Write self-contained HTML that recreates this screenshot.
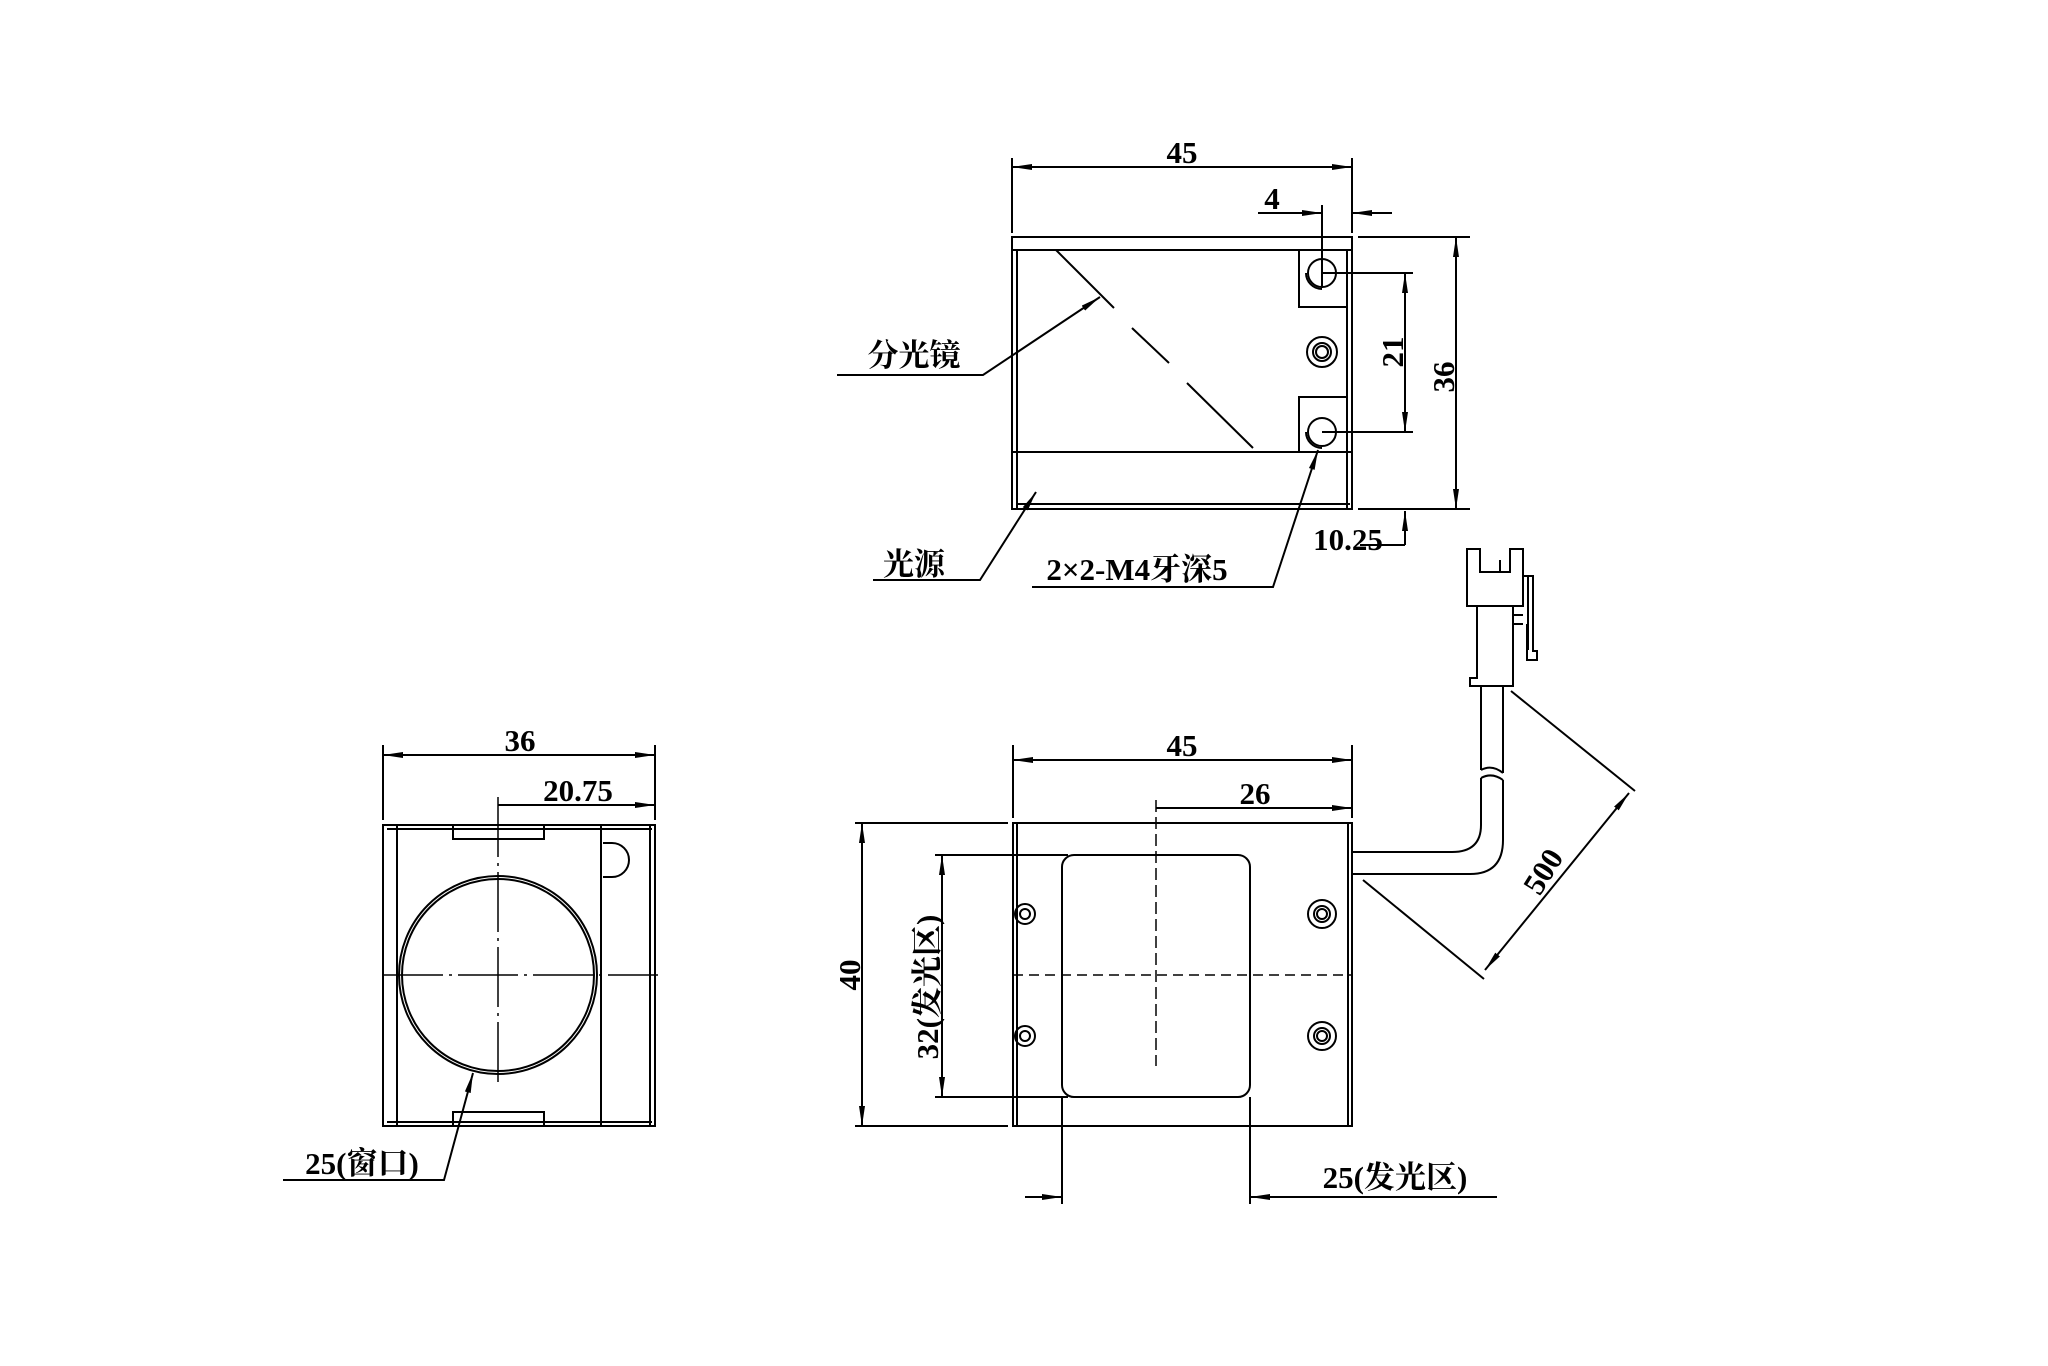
<!DOCTYPE html>
<html><head><meta charset="utf-8"><style>
html,body{margin:0;padding:0;background:#fff;}
svg{display:block}
text{font-family:"Liberation Serif","Noto Serif CJK SC","Noto Sans CJK SC",serif;font-weight:bold;fill:#000}
</style></head><body>
<svg width="2048" height="1366" viewBox="0 0 2048 1366" xmlns="http://www.w3.org/2000/svg">
<defs>
<marker id="a" viewBox="0 0 20 8" refX="20" refY="4" markerWidth="20" markerHeight="8" markerUnits="userSpaceOnUse" orient="auto-start-reverse">
<path d="M0,1 L20,4 L0,7 Z" fill="#000"/></marker>
</defs>
<g stroke="#000" stroke-width="2" fill="none">
<rect x="1012" y="237" width="340" height="272"/>
<line x1="1012" y1="250" x2="1352" y2="250"/>
<line x1="1017" y1="250" x2="1017" y2="509"/>
<line x1="1347" y1="250" x2="1347" y2="509"/>
<line x1="1012" y1="452" x2="1352" y2="452"/>
<line x1="1016" y1="504" x2="1350" y2="504"/>
<line x1="1056" y1="250" x2="1114" y2="308"/>
<line x1="1132" y1="328" x2="1169" y2="363"/>
<line x1="1187" y1="383" x2="1253" y2="448"/>
<polyline points="1299,250 1299,307 1347,307"/>
<polyline points="1299,452 1299,397 1347,397"/>
<circle cx="1322" cy="273" r="14"/><path d="M1306,273 A16,16 0 0 0 1322,289"/>
<circle cx="1322" cy="432" r="14"/><path d="M1306,432 A16,16 0 0 0 1322,448"/>
<circle cx="1322" cy="352" r="15"/><circle cx="1322" cy="352" r="9"/><circle cx="1322" cy="352" r="6"/>
<line x1="1012" y1="158" x2="1012" y2="233"/><line x1="1352" y1="158" x2="1352" y2="233"/>
<line x1="1012" y1="167" x2="1352" y2="167" marker-start="url(#a)" marker-end="url(#a)"/>
<line x1="1322" y1="205" x2="1322" y2="288"/>
<line x1="1258" y1="213" x2="1322" y2="213" marker-end="url(#a)"/>
<line x1="1392" y1="213" x2="1352" y2="213" marker-end="url(#a)"/>
<line x1="1322" y1="273" x2="1413" y2="273"/><line x1="1322" y1="432" x2="1413" y2="432"/>
<line x1="1405" y1="273" x2="1405" y2="432" marker-start="url(#a)" marker-end="url(#a)"/>
<line x1="1358" y1="237" x2="1470" y2="237"/><line x1="1358" y1="509" x2="1470" y2="509"/>
<line x1="1456" y1="237" x2="1456" y2="509" marker-start="url(#a)" marker-end="url(#a)"/>
<line x1="1405" y1="545" x2="1405" y2="511" marker-end="url(#a)"/>
<line x1="1360" y1="545" x2="1405" y2="545"/>
<polyline points="837,375 983,375 1100,297" marker-end="url(#a)"/>
<polyline points="873,580 980,580 1036,492" marker-end="url(#a)"/>
<polyline points="1032,587 1273,587 1318,450" marker-end="url(#a)"/>

<rect x="383" y="825" width="272" height="301"/>
<line x1="397" y1="825" x2="397" y2="1126"/>
<line x1="601" y1="825" x2="601" y2="1126"/>
<line x1="650" y1="825" x2="650" y2="1126"/>
<line x1="387" y1="829" x2="652" y2="829"/><line x1="387" y1="1122" x2="652" y2="1122"/>
<polyline points="453,825 453,839 544,839 544,825"/>
<polyline points="453,1126 453,1112 544,1112 544,1126"/>
<path d="M603,843 L612,843 A17,17 0 0 1 612,877 L603,877"/>
<circle cx="498" cy="975" r="99"/><circle cx="498" cy="975" r="96"/>
<line x1="498" y1="797" x2="498" y2="1088" stroke-width="1.5" stroke-dasharray="60,6,3,6"/>
<line x1="383" y1="975" x2="658" y2="975" stroke-width="1.5" stroke-dasharray="60,6,3,6"/>
<line x1="383" y1="745" x2="383" y2="820"/><line x1="655" y1="745" x2="655" y2="820"/>
<line x1="383" y1="755" x2="655" y2="755" marker-start="url(#a)" marker-end="url(#a)"/>
<line x1="498" y1="805" x2="655" y2="805" marker-end="url(#a)"/>
<polyline points="283,1180 444,1180 473,1073" marker-end="url(#a)"/>

<rect x="1013" y="823" width="339" height="303"/>
<line x1="1017" y1="823" x2="1017" y2="1126"/><line x1="1348" y1="823" x2="1348" y2="1126"/>
<rect x="1062" y="855" width="188" height="242" rx="12"/>
<circle cx="1025" cy="914" r="10"/><circle cx="1025" cy="914" r="5"/>
<circle cx="1025" cy="1036" r="10"/><circle cx="1025" cy="1036" r="5"/>
<circle cx="1322" cy="914" r="14"/><circle cx="1322" cy="914" r="8"/><circle cx="1322" cy="914" r="5"/>
<circle cx="1322" cy="1036" r="14"/><circle cx="1322" cy="1036" r="8"/><circle cx="1322" cy="1036" r="5"/>
<line x1="1156" y1="800" x2="1156" y2="1066" stroke-width="1.5" stroke-dasharray="12,5"/>
<line x1="1013" y1="975" x2="1352" y2="975" stroke-width="1.5" stroke-dasharray="10,6"/>
<line x1="1013" y1="745" x2="1013" y2="818"/><line x1="1352" y1="745" x2="1352" y2="818"/>
<line x1="1013" y1="760" x2="1352" y2="760" marker-start="url(#a)" marker-end="url(#a)"/>
<line x1="1156" y1="808" x2="1352" y2="808" marker-end="url(#a)"/>
<line x1="855" y1="823" x2="1008" y2="823"/><line x1="855" y1="1126" x2="1008" y2="1126"/>
<line x1="862" y1="823" x2="862" y2="1126" marker-start="url(#a)" marker-end="url(#a)"/>
<line x1="935" y1="855" x2="1068" y2="855"/><line x1="935" y1="1097" x2="1068" y2="1097"/>
<line x1="942" y1="855" x2="942" y2="1097" marker-start="url(#a)" marker-end="url(#a)"/>
<line x1="1062" y1="1097" x2="1062" y2="1204"/><line x1="1250" y1="1097" x2="1250" y2="1204"/>
<line x1="1025" y1="1197" x2="1062" y2="1197" marker-end="url(#a)"/>
<line x1="1497" y1="1197" x2="1250" y2="1197" marker-end="url(#a)"/>
<path d="M1352,852 L1452,852 Q1481,852 1481,825 L1481,778"/>
<path d="M1352,874 L1470,874 Q1503,874 1503,840 L1503,780"/>
<path d="M1481,770 L1481,686 M1503,773 L1503,686"/>
<path d="M1481,778 Q1492,772 1503,780 M1481,770 Q1492,764 1503,773"/>
<path d="M1467,549 L1480,549 L1480,572 L1510,572 L1510,549 L1523,549 L1523,606 L1467,606 Z"/>
<line x1="1500" y1="560" x2="1500" y2="572"/>
<path d="M1477,606 L1477,678 L1470,678 L1470,686 L1513,686 L1513,606"/>
<path d="M1513,615 L1523,615 M1513,624 L1523,624"/>
<path d="M1523,576 L1533,576 L1533,651 L1537,651 L1537,660 L1527,660 L1527,624"/>
<line x1="1528" y1="576" x2="1528" y2="650"/>
<line x1="1511" y1="691" x2="1635" y2="791"/>
<line x1="1363" y1="880" x2="1484" y2="979"/>
<line x1="1629" y1="793" x2="1485" y2="970" marker-start="url(#a)" marker-end="url(#a)"/>
</g>
<g font-size="31">
<text x="1182" y="163" text-anchor="middle">45</text>
<text x="1272" y="209" text-anchor="middle">4</text>
<text transform="translate(1403,352) rotate(-90)" text-anchor="middle">21</text>
<text transform="translate(1454,377) rotate(-90)" text-anchor="middle">36</text>
<text x="1348" y="550" text-anchor="middle">10.25</text>
<text x="914" y="366" text-anchor="middle">分光镜</text>
<text x="914" y="575" text-anchor="middle">光源</text>
<text x="1137" y="580" text-anchor="middle">2×2-M4牙深5</text>
<text x="520" y="751" text-anchor="middle">36</text>
<text x="578" y="801" text-anchor="middle">20.75</text>
<text x="362" y="1174" text-anchor="middle">25(窗口)</text>
<text x="1182" y="756" text-anchor="middle">45</text>
<text x="1255" y="804" text-anchor="middle">26</text>
<text transform="translate(860,975) rotate(-90)" text-anchor="middle">40</text>
<text transform="translate(938,987) rotate(-90)" text-anchor="middle">32(发光区)</text>
<text x="1395" y="1188" text-anchor="middle">25(发光区)</text>
<text transform="translate(1552,877) rotate(-58)" text-anchor="middle">500</text>
</g>
</svg>
</body></html>
